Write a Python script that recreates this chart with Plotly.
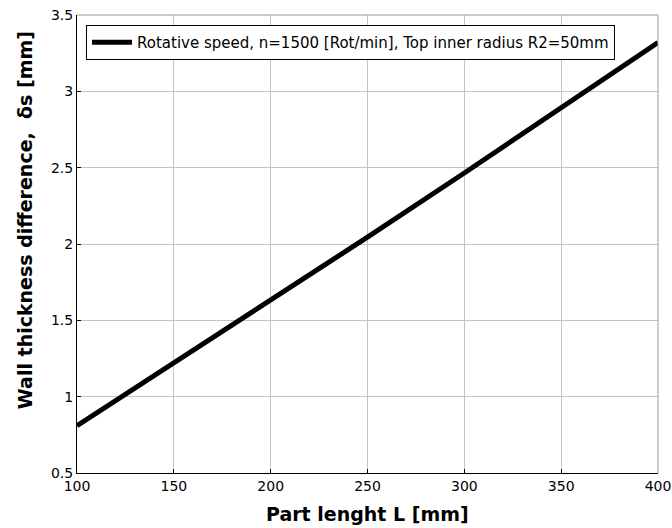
import plotly.graph_objects as go

part_length = [100, 150, 200, 250, 300, 350, 400]
wall_diff = [0.81, 1.22, 1.635, 2.045, 2.465, 2.89, 3.32]
series_name = "Rotative speed, n=1500 [Rot/min], Top inner radius R2=50mm"
x_ticks = [100, 150, 200, 250, 300, 350, 400]
y_ticks = [0.5, 1, 1.5, 2, 2.5, 3, 3.5]
x_title = "Part lenght L [mm]"
y_title = "Wall thickness difference,  δs [mm]"

fig = go.Figure()
fig.add_trace(go.Scatter(x=part_length, y=wall_diff, mode="lines",
                         line=dict(color="black", width=5), name=series_name,
                         showlegend=True))

axis_common = dict(showgrid=True, gridcolor="#c4c4c4", gridwidth=1, showline=True,
                   linecolor="black", linewidth=1, ticks="inside", ticklen=4,
                   tickcolor="black", zeroline=False, automargin=False,
                   ticklabeloverflow="allow",
                   tickfont=dict(family="DejaVu Sans", size=14, color="black"))

fig.update_layout(
    width=672, height=528,
    margin=dict(l=77, r=14, t=15, b=55),
    paper_bgcolor="white", plot_bgcolor="white",
    font=dict(family="DejaVu Sans", size=14, color="black"),
    showlegend=True,
    legend=dict(x=0.0155, y=0.978, xanchor="left", yanchor="top",
                bgcolor="white", bordercolor="black", borderwidth=1,
                font=dict(family="DejaVu Sans", size=15), itemwidth=40),
    xaxis=dict(range=[100, 400], tickvals=x_ticks, **axis_common),
    yaxis=dict(range=[0.5, 3.5], tickvals=y_ticks, **axis_common),
)
fig.add_annotation(text="<b>" + x_title + "</b>", xref="paper", yref="paper",
                   x=0.5, y=-0.061, xanchor="center", yanchor="top", showarrow=False,
                   font=dict(family="DejaVu Sans", size=19, color="black"))
fig.add_annotation(text="<b>" + y_title + "</b>", xref="paper", yref="paper",
                   x=-0.0895, y=0.552, xanchor="center", yanchor="middle", showarrow=False,
                   textangle=-90,
                   font=dict(family="DejaVu Sans", size=19, color="black"))
# top and right box edges
fig.add_shape(type="line", xref="paper", yref="paper", x0=0, x1=1, y0=1, y1=1,
              line=dict(color="#999999", width=1))
fig.add_shape(type="line", xref="paper", yref="paper", x0=1, x1=1, y0=0, y1=1,
              line=dict(color="#999999", width=1))

fig.write_html("out.html", config={"displayModeBar": False},
               post_script="document.body.style.margin='0';document.body.style.overflow='hidden';")
